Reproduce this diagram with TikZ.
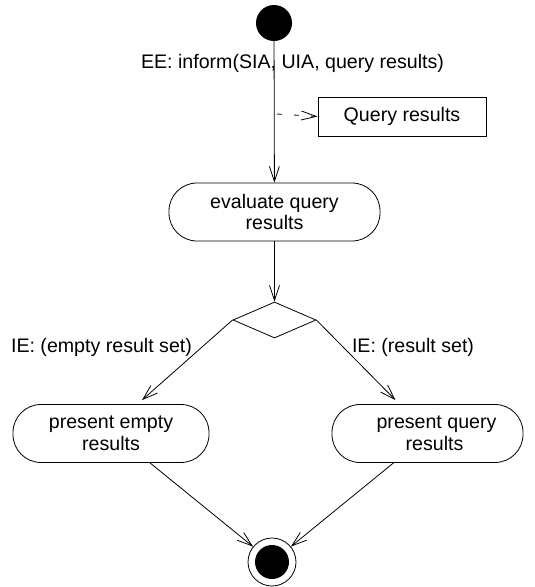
\documentclass[tikz,border=0pt]{standalone}
\usepackage{fontspec}
\setmainfont{Liberation Sans}
\usetikzlibrary{arrows.meta,shapes.geometric,calc}
\begin{document}
\begin{tikzpicture}[x=1pt,y=-1pt,
  every node/.style={font=\fontsize{19.6}{21.5}\selectfont},
  act/.style={draw,rectangle,rounded corners=28pt,minimum height=58pt,align=center,inner sep=0pt,line width=0.8pt},
  flow/.style={line width=0.8pt,-{Straight Barb[length=15pt,width=10pt,line width=0.8pt]}},
  lbl/.style={inner sep=0pt}]
\useasboundingbox (0,0) rectangle (535,587);
\node[circle,fill,minimum size=36pt,inner sep=0pt] (start) at (274,23) {};
\node[act,minimum width=211pt] (eval) at (274.5,212) {evaluate query\\results};
\node[draw,diamond,minimum width=83pt,minimum height=36pt,inner sep=0pt,line width=0.8pt] (dec) at (274.5,320) {};
\node[act,minimum width=196pt] (empty) at (111,433.5) {present empty\\results};
\node[act,minimum width=191pt] (query) at (427.5,433.5) {\hspace*{18pt}present query\\\hspace*{14pt}results};
\node[circle,draw,minimum size=48pt,inner sep=0pt,line width=0.8pt] (final) at (272,562) {};
\fill (final.center) circle (17pt);
\node[draw,minimum width=168pt,minimum height=39pt,line width=0.8pt] (qr) at (402,116.5) {Query results};
\node[lbl] (ee) at (292.5,63) {EE: inform(SIA, UIA, query results)};
\node[lbl] (ie1) at (101.5,347) {IE: (empty result set)};
\node[lbl] (ie2) at (413,347) {IE: (result set)};
\coordinate (q) at (277,114);
\draw[flow] (start) -- (eval);
\draw[line width=0.8pt,dash pattern=on 5pt off 12pt,-{Straight Barb[length=15pt,width=9pt,line width=0.8pt]}] (q) -- (qr.west);
\draw[flow] (eval) -- (dec);
\draw[flow] (dec.west) -- ($(empty.north)+(31,-4)$);
\draw[flow] (dec.east) -- ($(query.north)+(-32,-4)$);
\draw[flow] ($(empty.south)+(39,0)$) -- (final);
\draw[flow] ($(query.south)+(-34,0)$) -- (final);
\end{tikzpicture}
\end{document}
